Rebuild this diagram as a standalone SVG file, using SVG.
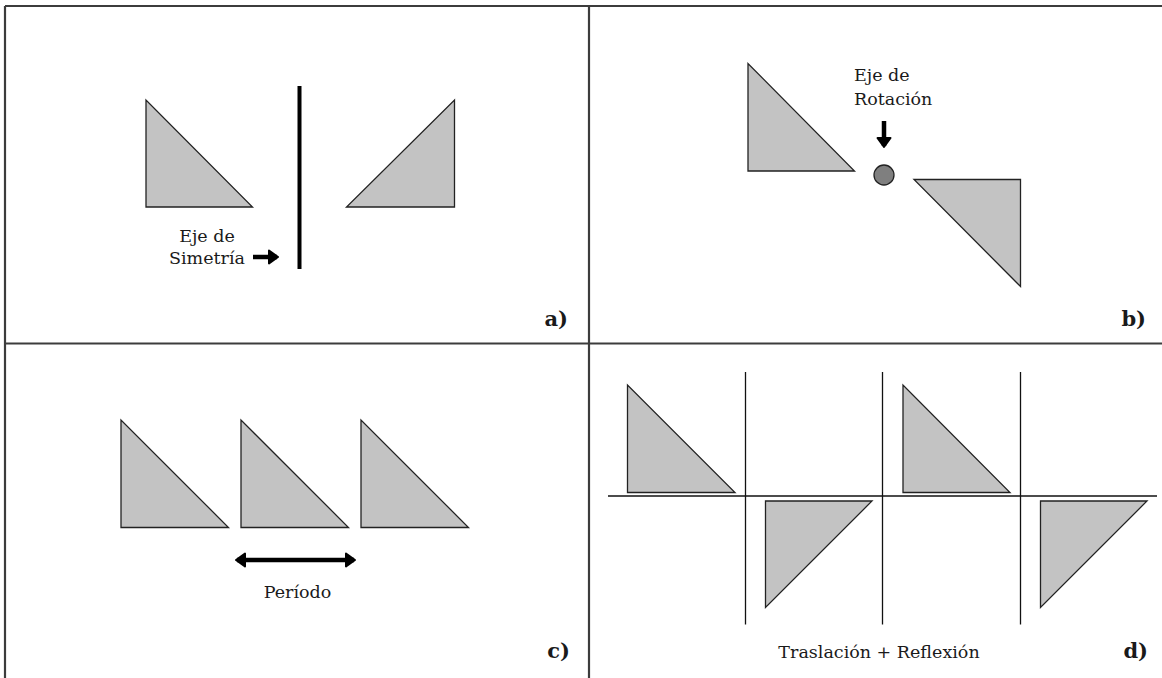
<svg xmlns="http://www.w3.org/2000/svg" width="1162" height="678" viewBox="0 0 1162 678">
<style>
.tri{fill:#c3c3c3;stroke:#222;stroke-width:1.3;stroke-linejoin:miter}
.frame{stroke:#3c3c3c;stroke-width:2.2;fill:none}
.thin{stroke:#111;stroke-width:1.3;fill:none}
.lbl{font-family:"DejaVu Serif","Liberation Serif",serif;font-size:17.5px;fill:#1a1a1a}
.tag{font-family:"DejaVu Serif","Liberation Serif",serif;font-size:21px;font-weight:bold;fill:#1a1a1a;text-anchor:end}
.arr{stroke:#000;stroke-width:4.5;fill:none}
</style>
<defs>
<marker id="ah" viewBox="-2 -8 13 16" refX="8" refY="0" markerWidth="13" markerHeight="16" markerUnits="userSpaceOnUse" orient="auto-start-reverse">
<path d="M0,-6.5 L9,0 L0,6.5 Z" fill="#000" stroke="#000" stroke-width="2" stroke-linejoin="round"/>
</marker>
</defs>
<rect width="1162" height="678" fill="#fff"/>
<g id="frame">
<line class="frame" x1="5" y1="6" x2="1162" y2="6"/>
<line class="frame" x1="5" y1="6" x2="5" y2="678"/>
<line class="frame" x1="589" y1="6" x2="589" y2="678"/>
<line class="frame" x1="5" y1="343.5" x2="1162" y2="343.5"/>
</g>
<g id="panel-a">
<polygon class="tri" points="146,100 146,207 252.5,207"/>
<polygon class="tri" points="454.5,100 454.5,207 346.5,207"/>
<line x1="299.5" y1="86" x2="299.5" y2="269" stroke="#000" stroke-width="4"/>
<text class="lbl" x="207" y="242" text-anchor="middle">Eje de</text>
<text class="lbl" x="207" y="263.5" text-anchor="middle">Simetría</text>
<text class="tag" x="568" y="326">a)</text>
</g>
<g id="panel-b">
<polygon class="tri" points="748,63.5 748,171 854.5,171"/>
<polygon class="tri" points="914,179.5 1020.5,179.5 1020.5,286.5"/>
<circle cx="884" cy="175" r="10" fill="#7f7f7f" stroke="#222" stroke-width="1.3"/>
<text class="lbl" x="854" y="81">Eje de</text>
<text class="lbl" x="854" y="105">Rotación</text>
<text class="tag" x="1146" y="326">b)</text>
</g>
<g id="panel-c">
<polygon class="tri" points="121,420 121,527.5 228.5,527.5"/>
<polygon class="tri" points="241,420 241,527.5 348.5,527.5"/>
<polygon class="tri" points="361,420 361,527.5 468.5,527.5"/>
<text class="lbl" x="297.5" y="598" text-anchor="middle">Período</text>
<text class="tag" x="570" y="658">c)</text>
</g>
<g id="panel-d">
<polygon class="tri" points="627.5,385 627.5,492.5 735,492.5"/>
<polygon class="tri" points="903,385 903,492.5 1010,492.5"/>
<polygon class="tri" points="765.5,501 872,501 765.5,607.5"/>
<polygon class="tri" points="1040.5,501 1147,501 1040.5,607.5"/>
<line class="thin" x1="608" y1="496" x2="1157" y2="496"/>
<line class="thin" x1="745.5" y1="372" x2="745.5" y2="624.5"/>
<line class="thin" x1="882.5" y1="372" x2="882.5" y2="624.5"/>
<line class="thin" x1="1020.5" y1="372" x2="1020.5" y2="624.5"/>
<text class="lbl" x="879" y="658" text-anchor="middle">Traslación + Reflexión</text>
<text class="tag" x="1148" y="658">d)</text>
</g>
<g id="connectors">
<line class="arr" x1="253" y1="257" x2="277" y2="257" marker-end="url(#ah)"/>
<line class="arr" x1="884" y1="121" x2="884" y2="146" marker-end="url(#ah)"/>
<line class="arr" x1="237" y1="560" x2="354" y2="560" marker-start="url(#ah)" marker-end="url(#ah)"/>
</g>
</svg>
